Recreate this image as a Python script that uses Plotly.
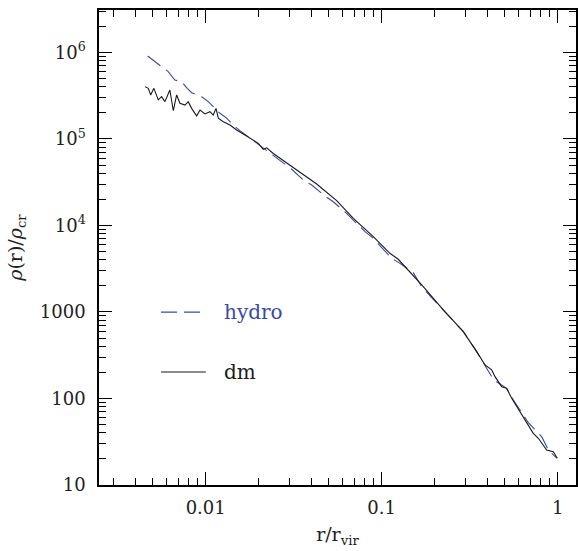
import plotly.graph_objects as go

# ---- data ----
dm_r = [0.00452, 0.00472, 0.00487, 0.00508, 0.00538, 0.00562, 0.00587, 0.00626, 0.00655, 0.00684,
        0.00714, 0.00763, 0.00796, 0.00832, 0.00889, 0.00929, 0.00991, 0.01057, 0.01104, 0.01145,
        0.01180, 0.01259, 0.01374, 0.01500, 0.01672, 0.01864, 0.0199, 0.02124, 0.02222, 0.02422,
        0.02703, 0.02885, 0.03288, 0.03749, 0.04273, 0.0555, 0.069, 0.0896, 0.1114, 0.1242,
        0.1387, 0.1512, 0.1723, 0.2239, 0.2909, 0.3465, 0.3864, 0.4217, 0.4404, 0.4808,
        0.5129, 0.5479, 0.6109, 0.6668, 0.7265, 0.776, 0.866, 0.944, 0.995]
dm_rho = [4.03e5, 3.85e5, 3.23e5, 3.85e5, 2.83e5, 3.08e5, 2.70e5, 3.68e5, 2.12e5, 3.23e5,
          2.59e5, 2.47e5, 2.70e5, 2.26e5, 1.85e5, 2.16e5, 1.95e5, 2.07e5, 1.89e5, 2.26e5,
          1.74e5, 1.58e5, 1.45e5, 1.27e5, 1.11e5, 9.7e4, 8.9e4, 7.6e4, 7.9e4, 6.8e4,
          5.8e4, 5.3e4, 4.38e4, 3.67e4, 3.02e4, 1.94e4, 1.21e4, 7430, 4770, 4070,
          3200, 2610, 1960, 1055, 592, 348, 244, 214, 179, 137,
          131, 100.5, 70.3, 51.7, 39.6, 34.7, 25.4, 24.3, 20.4]

hydro_r = [0.00468, 0.00527, 0.00562, 0.00613, 0.00668, 0.00730, 0.00786, 0.00832, 0.00949, 0.01035,
           0.0113, 0.01206, 0.01316, 0.01435, 0.01566, 0.01787, 0.0195, 0.0242, 0.0276, 0.0308,
           0.0359, 0.0400, 0.0487, 0.0531, 0.0632, 0.0690, 0.0804, 0.0896, 0.1044, 0.1139,
           0.1270, 0.1512, 0.1687, 0.2239, 0.2909, 0.3465, 0.3864, 0.4217, 0.450, 0.5129,
           0.560, 0.6244, 0.681, 0.811, 0.885, 0.987]
hydro_rho = [9.1e5, 7.6e5, 7.0e5, 6.0e5, 4.8e5, 4.6e5, 3.85e5, 3.43e5, 3.08e5, 2.70e5,
             2.26e5, 1.98e5, 1.74e5, 1.45e5, 1.25e5, 1.02e5, 8.9e4, 6.53e4, 5.32e4, 4.47e4,
             3.36e4, 2.94e4, 2.12e4, 1.88e4, 1.38e4, 1.16e4, 8480, 7110, 4980, 4180,
             3650, 2850, 1960, 1055, 592, 348, 244, 179, 156, 131,
             96, 67.4, 52.5, 36.2, 25.4, 20.4]

x_tickvals = [0.01, 0.1, 1]
x_ticktext = ["0.01", "0.1", "1"]
y_tickvals = [10, 100, 1000, 1e4, 1e5, 1e6]
y_ticktext = ["10", "100", "1000", "10<sup>4</sup>", "10<sup>5</sup>", "10<sup>6</sup>"]

BLUE = "#3a48a8"
BLACK = "#1a1a1a"
FONT = "DejaVu Serif"
XR = [-2.606, 0.104]
YR = [1, 6.491]

x_minor = [m * 10.0 ** e for e in range(-3, 1) for m in range(2, 10)]
y_minor = [m * 10.0 ** e for e in range(1, 7) for m in range(2, 10)]

fig = go.Figure()
fig.add_trace(go.Scatter(x=hydro_r, y=hydro_rho, mode="lines", name="hydro",
                         line=dict(color=BLUE, width=1.1, dash="16px,7px")))
fig.add_trace(go.Scatter(x=dm_r, y=dm_rho, mode="lines", name="dm",
                         line=dict(color=BLACK, width=1.1)))
# invisible trace to anchor the mirrored (top/right) tick axes
fig.add_trace(go.Scatter(x=[dm_r[0]], y=[dm_rho[0]], xaxis="x2", yaxis="y2", mode="markers",
                         marker=dict(opacity=0), hoverinfo="skip", showlegend=False))

common = dict(
    showline=True, linecolor="black", linewidth=1.5,
    ticks="inside", ticklen=13, tickwidth=1.1, tickcolor="black",
    showgrid=False, zeroline=False, automargin=False,
    tickfont=dict(family=FONT, size=18, color="#222"),
)
minor_x = dict(ticks="inside", ticklen=7, tickwidth=1.1, tickcolor="black",
               tickmode="array", tickvals=x_minor, showgrid=False)
minor_y = dict(ticks="inside", ticklen=7, tickwidth=1.1, tickcolor="black",
               tickmode="array", tickvals=y_minor, showgrid=False)

fig.update_layout(
    xaxis=dict(type="log", range=XR, tickmode="array", tickvals=x_tickvals, ticktext=x_ticktext,
               minor=minor_x, ticklabelstandoff=6,
               title=dict(text="r/r<sub>vir</sub>", font=dict(family=FONT, size=19, color="#222"),
                          standoff=10),
               **common),
    yaxis=dict(type="log", range=YR, tickmode="array", tickvals=y_tickvals, ticktext=y_ticktext,
               minor=minor_y, ticklabelstandoff=8,
               title=dict(text="<i>ρ</i>(r)/<i>ρ</i><sub>cr</sub>",
                          font=dict(family=FONT, size=19, color="#222"), standoff=12),
               **common),
    xaxis2=dict(type="log", range=XR, tickmode="array", tickvals=x_tickvals,
                showticklabels=False, minor=minor_x, overlaying="x", side="top",
                anchor="y2", **common),
    yaxis2=dict(type="log", range=YR, tickmode="array", tickvals=y_tickvals,
                showticklabels=False, minor=minor_y, overlaying="y", side="right",
                anchor="x2", **common),
)

# legend samples drawn inside the plot
fig.add_shape(type="line", xref="paper", yref="paper", x0=0.130, x1=0.224, y0=0.364, y1=0.364,
              line=dict(color=BLUE, width=1.1, dash="16px,7px"))
fig.add_shape(type="line", xref="paper", yref="paper", x0=0.130, x1=0.224, y0=0.238, y1=0.238,
              line=dict(color=BLACK, width=1.1))
fig.add_annotation(xref="paper", yref="paper", x=0.258, y=0.364, text="hydro", showarrow=False,
                   xanchor="left", yanchor="middle", font=dict(family=FONT, size=20, color=BLUE))
fig.add_annotation(xref="paper", yref="paper", x=0.258, y=0.238, text="dm", showarrow=False,
                   xanchor="left", yanchor="middle", font=dict(family=FONT, size=20, color=BLACK))

fig.update_layout(
    width=578, height=551,
    margin=dict(l=99, r=2, t=10, b=66),
    paper_bgcolor="white", plot_bgcolor="white",
    showlegend=False,
)

fig.write_html("out.html", config={"displayModeBar": False},
               post_script="document.body.style.margin='0';document.body.style.overflow='hidden';")
